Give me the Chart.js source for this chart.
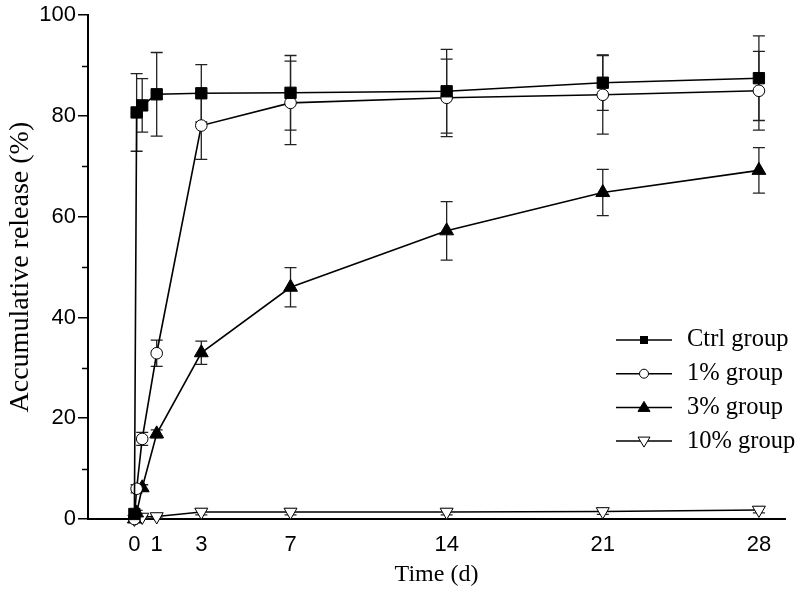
<!DOCTYPE html>
<html>
<head>
<meta charset="utf-8">
<script src="https://cdn.jsdelivr.net/npm/chart.js@4.4.1/dist/chart.umd.min.js"></script>
<style>
  html, body { margin: 0; padding: 0; background: #fff; }
  #wrap { width: 800px; height: 593px; position: relative; }
</style>
</head>
<body>
<div id="wrap"><canvas id="releaseChart"></canvas></div>
<script>
// time points (days) and tick values
const times = [0, 0.1, 0.35, 1, 3, 7, 14, 21, 28];
const xTicks = [0, 1, 3, 7, 14, 21, 28];
const yTicks = [0, 20, 40, 60, 80, 100];

const seriesLabels = ["Ctrl group", "1% group", "3% group", "10% group"];

// accumulative release (%) and error (SD)
const ctrlMean = [1, 80.7, 82.1, 84.3, 84.5, 84.6, 84.9, 86.6, 87.5];
const ctrlErr = [0, 7.7, 5.3, 8.3, 5.7, 7.4, 8.3, 5.5, 8.4];
const onePctMean = [0, 6.0, 15.9, 32.9, 78.1, 82.6, 83.6, 84.2, 85.0];
const onePctErr = [0, 0.8, 1.3, 2.6, 6.7, 8.3, 7.7, 7.8, 7.8];
const threePctMean = [0, 1.2, 6.2, 16.9, 33.0, 46.0, 57.2, 64.8, 69.2];
const threePctErr = [0, 0.5, 0.6, 0.8, 2.3, 3.9, 5.8, 4.6, 4.5];
const tenPctMean = [0, 0.3, 0.4, 0.5, 1.4, 1.4, 1.4, 1.5, 1.8];
const tenPctErr = [0, 0.3, 0.3, 0.3, 0.6, 0.6, 0.6, 0.6, 0.6];

const means = [ctrlMean, onePctMean, threePctMean, tenPctMean];
const errs = [ctrlErr, onePctErr, threePctErr, tenPctErr];

const markers = [
  { style: "rect", radius: 8, fill: "#000", rotation: 0 },
  { style: "circle", radius: 5.8, fill: "#fff", rotation: 0 },
  { style: "triangle", radius: 8, fill: "#000", rotation: 0 },
  { style: "triangle", radius: 7.5, fill: "#fff", rotation: 180 },
];

const serif = "'Liberation Serif', 'Times New Roman', serif";
const sans = "'Liberation Sans', Arial, sans-serif";
const narrow = "'Liberation Sans Narrow', 'Arial Narrow', 'Liberation Sans', sans-serif";

// error bars drawn behind the markers
const errorBars = {
  id: "errorBars",
  beforeDatasetsDraw(chart) {
    const { ctx, scales } = chart;
    ctx.save();
    ctx.strokeStyle = "#222";
    ctx.lineWidth = 1.3;
    means.forEach((vals, i) => {
      vals.forEach((v, j) => {
        const e = errs[i][j];
        if (!e) return;
        const x = scales.x.getPixelForValue(times[j]);
        const yt = scales.y.getPixelForValue(v + e);
        const yb = scales.y.getPixelForValue(Math.max(v - e, 0));
        ctx.beginPath();
        ctx.moveTo(x, yt);
        ctx.lineTo(x, yb);
        ctx.moveTo(x - 6, yt);
        ctx.lineTo(x + 6, yt);
        if (v - e > 0) {
          ctx.moveTo(x - 6, yb);
          ctx.lineTo(x + 6, yb);
        }
        ctx.stroke();
      });
    });
    ctx.restore();
  },
};

// minor ticks on y axis
const minorTicks = {
  id: "minorTicks",
  afterDraw(chart) {
    const { ctx, scales } = chart;
    const x0 = scales.y.right;
    ctx.save();
    ctx.strokeStyle = "#000";
    ctx.lineWidth = 1.5;
    for (let v = 10; v < 100; v += 20) {
      const y = Math.round(scales.y.getPixelForValue(v)) + 0.5;
      ctx.beginPath();
      ctx.moveTo(x0 - 6, y);
      ctx.lineTo(x0, y);
      ctx.stroke();
    }
    ctx.restore();
  },
};

// legend with line + marker
const lineLegend = {
  id: "lineLegend",
  afterDraw(chart) {
    const { ctx } = chart;
    ctx.save();
    seriesLabels.forEach((label, i) => {
      const y = 340 + i * 33.7;
      ctx.strokeStyle = "#000";
      ctx.lineWidth = 1.5;
      ctx.beginPath();
      ctx.moveTo(616, y);
      ctx.lineTo(672, y);
      ctx.stroke();
      const m = markers[i];
      ctx.fillStyle = m.fill;
      ctx.lineWidth = 1;
      if (m.style === "rect") {
        ctx.fillRect(640, y - 4, 8, 8);
      } else if (m.style === "circle") {
        ctx.beginPath();
        ctx.arc(644, y, 4.5, 0, Math.PI * 2);
        ctx.fill();
        ctx.stroke();
      } else {
        const d = m.rotation ? -1 : 1;
        ctx.beginPath();
        ctx.moveTo(644, y - 6 * d);
        ctx.lineTo(650, y + 4 * d);
        ctx.lineTo(638, y + 4 * d);
        ctx.closePath();
        ctx.fill();
        ctx.stroke();
      }
      ctx.fillStyle = "#000";
      ctx.font = "24.5px " + serif;
      ctx.textBaseline = "middle";
      ctx.textAlign = "left";
      ctx.fillText(label, 687, y);
    });
    ctx.restore();
  },
};

const datasets = means.map((vals, i) => ({
  label: seriesLabels[i],
  data: vals.map((v, j) => ({ x: times[j], y: v })),
  borderColor: "#000",
  borderWidth: 1.6,
  pointStyle: markers[i].style,
  pointRadius: markers[i].radius,
  pointRotation: markers[i].rotation,
  pointBackgroundColor: markers[i].fill,
  pointBorderColor: "#000",
  pointBorderWidth: 1,
  tension: 0,
  clip: false,
}));

const ctx = document.getElementById("releaseChart").getContext("2d");
new Chart(ctx, {
  type: "line",
  data: { datasets: datasets },
  options: {
    responsive: true,
    maintainAspectRatio: false,
    animation: false,
    layout: { padding: { left: 0, top: 10, right: 15, bottom: 0 } },
    plugins: {
      legend: { display: false },
      tooltip: { enabled: false },
    },
    scales: {
      x: {
        type: "linear",
        min: -2.08,
        max: 29.17,
        afterBuildTicks: (scale) => {
          scale.ticks = xTicks.map((v) => ({ value: v }));
        },
        afterFit: (scale) => {
          scale.height = 74;
        },
        grid: { display: false },
        border: { display: true, color: "#000", width: 2 },
        ticks: {
          color: "#000",
          font: { family: narrow, size: 22 },
          padding: 5,
          maxRotation: 0,
          autoSkip: false,
        },
        title: {
          display: true,
          text: "Time (d)",
          color: "#000",
          font: { family: serif, size: 24 },
          padding: { top: 3 },
        },
      },
      y: {
        min: 0,
        max: 100,
        afterBuildTicks: (scale) => {
          scale.ticks = yTicks.map((v) => ({ value: v }));
        },
        afterFit: (scale) => {
          scale.width = 88;
        },
        grid: {
          drawOnChartArea: false,
          drawTicks: true,
          tickLength: 10,
          color: "#000",
          lineWidth: 1.5,
        },
        border: { display: true, color: "#000", width: 2 },
        ticks: {
          color: "#000",
          font: { family: sans, size: 22 },
          padding: 2,
        },
        title: {
          display: true,
          text: "Accumulative release (%)",
          color: "#000",
          font: { family: serif, size: 28 },
          padding: { bottom: 2 },
        },
      },
    },
  },
  plugins: [errorBars, minorTicks, lineLegend],
});
</script>
</body>
</html>
